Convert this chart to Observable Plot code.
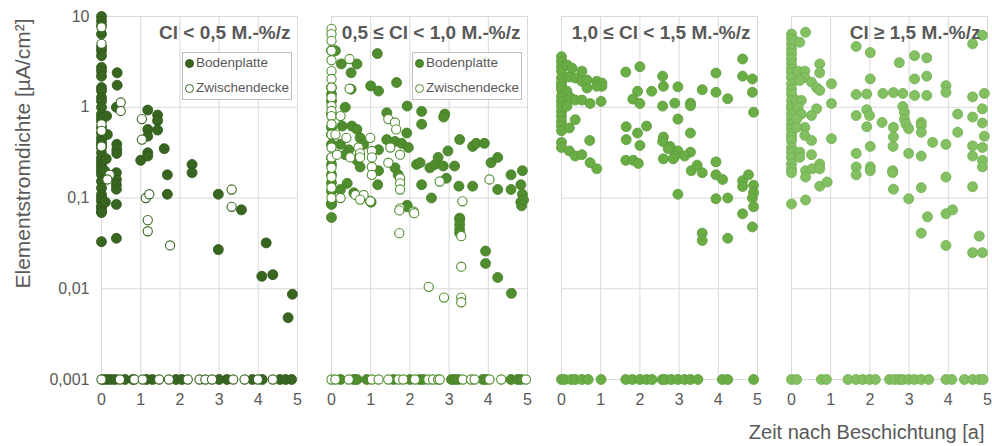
<!DOCTYPE html>
<html><head><meta charset="utf-8">
<script src="https://cdn.jsdelivr.net/npm/d3@7"></script>
<script src="https://cdn.jsdelivr.net/npm/@observablehq/plot@0.6"></script>
<style>
body{margin:0;background:#fff;}
#wrap{position:relative;width:992px;height:446px;font-family:"Liberation Sans",Arial,sans-serif;}
.legend{position:absolute;background:#fff;border:1px solid #bfbfbf;box-sizing:border-box;font-size:13.5px;color:#595959;}
.row{position:absolute;height:16px;line-height:16px;white-space:nowrap;}
.mk{position:absolute;width:9px;height:9px;border-radius:50%;box-sizing:border-box;}
</style></head><body><div id="wrap"></div>
<script>
const panelTitles = ["Cl < 0,5 M.-%/z", "0,5 ≤ Cl < 1,0 M.-%/z", "1,0 ≤ Cl < 1,5 M.-%/z", "Cl ≥ 1,5 M.-%/z"];
const seriesNames = ["Bodenplatte", "Zwischendecke"];
const xTicks = [0, 1, 2, 3, 4, 5];
const xTickLabels = ["0", "1", "2", "3", "4", "5"];
const yTicks = [0.001, 0.01, 0.1, 1, 10];
const yTickLabels = ["0,001", "0,01", "0,1", "1", "10"];
const xTitle = "Zeit nach Beschichtung [a]";
const yTitle = "Elementstromdichte [µA/cm²]";

// Panel 1: Cl < 0,5
const p1Boden = [
 [0,10],[0,8.9],[0,7.9],[0,6.4],[0,4.6],[0,4.2],[0,3.7],[0,2.75],[0,2.5],[0,2.2],[0,1.65],[0,1.52],[0,1.28],[0,1.17],[0,1.0],
 [0,0.84],[0,0.77],[0,0.71],[0,0.6],[0,0.52],[0,0.46],[0,0.42],[0,0.39],[0,0.36],[0,0.315],[0,0.277],[0,0.255],[0,0.234],
 [0,0.215],[0,0.197],[0,0.181],[0,0.153],[0,0.129],[0,0.109],[0,0.1],[0,0.092],[0,0.081],[0,0.078],[0,0.071],[0,0.069],[0,0.033],
 [0.13,0.8],[0.15,0.5],[0.1,0.09],[0.12,0.27],[0.08,0.2],
 [0.4,2.4],[0.4,1.75],[0.38,1.0],[0.39,0.39],[0.39,0.34],[0.39,0.31],[0.38,0.19],[0.38,0.16],[0.38,0.14],[0.38,0.125],[0.38,0.085],[0.38,0.036],
 [1.18,0.93],[1.43,0.82],[1.43,0.71],[1.18,0.57],[1.43,0.56],[1.18,0.48],[1.0,0.26],[1.18,0.315],[1.18,0.29],[1.6,0.35],[1.68,0.18],[1.68,0.11],
 [2.31,0.234],[2.31,0.19],[2.98,0.11],[3.57,0.074],[2.98,0.027],[4.2,0.032],[4.09,0.0137],[4.37,0.0143],[4.87,0.0087],[4.76,0.0048],
 [0.05,0.001],[0.15,0.001],[0.25,0.001],[0.35,0.001],[0.6,0.001],[0.8,0.001],[1.15,0.001],[1.3,0.001],[1.9,0.001],[2.05,0.001],
 [3.0,0.001],[3.2,0.001],[3.85,0.001],[4.1,0.001],[4.55,0.001],[4.7,0.001],[4.85,0.001]
];
const p1Zwischen = [
 [0,7.6],[0,5.0],[0,0.65],[0,0.55],[0,0.37],[0.21,0.18],[0.15,0.16],[0.49,1.13],[0.49,0.91],[1.03,0.74],[1.03,0.44],
 [1.13,0.1],[1.22,0.11],[1.18,0.057],[1.18,0.043],[1.75,0.03],[3.32,0.124],[3.32,0.08],
 [0,0.001],[0.47,0.001],[0.84,0.001],[1.05,0.001],[1.47,0.001],[1.72,0.001],[2.2,0.001],[2.5,0.001],[2.65,0.001],[2.82,0.001],
 [3.36,0.001],[3.65,0.001],[3.99,0.001],[4.37,0.001]
];

// Panel 2: 0,5 <= Cl < 1,0
const p2Boden = [
 [0,4.2],[0,1.65],[0,1.39],[0,1.17],[0,0.84],[0,0.6],[0,0.5],[0,0.39],[0,0.277],[0,0.234],[0,0.181],[0,0.147],[0,0.119],[0,0.088],[0,0.085],[0,0.061],
 [0.1,4.2],[0.25,3.0],[0.5,2.4],[0.65,3.0],[1.17,3.9],[1.0,1.72],[1.2,1.51],[1.66,1.87],[0.5,1.58],[1.93,1.03],[1.41,0.87],[2.3,0.9],
 [2.89,0.84],[2.86,0.78],[2.3,0.65],[0.35,1.0],[0.27,0.62],[0.52,0.62],[0.65,0.57],[0.23,0.39],[0.73,0.46],[1.92,0.52],[1.41,0.44],
 [1.62,0.42],[1.79,0.4],[1.96,0.36],[0.82,0.39],[0.44,0.34],[0.35,0.3],[0.65,0.26],[0.73,0.22],[1.2,0.34],[1.2,0.2],[1.62,0.215],
 [1.7,0.18],[2.17,0.234],[2.26,0.245],[2.51,0.215],[2.64,0.234],[2.72,0.28],[2.85,0.225],[2.97,0.33],[3.14,0.225],[3.27,0.44],
 [3.6,0.37],[3.69,0.4],[3.9,0.4],[4.07,0.245],[4.24,0.28],[4.58,0.18],[4.87,0.2],[4.24,0.124],[4.58,0.124],[4.83,0.14],[4.87,0.11],
 [4.83,0.09],[3.6,0.135],[3.25,0.135],[2.93,0.165],[2.3,0.14],[2.55,0.1],[1.18,0.14],[0.99,0.092],[0.57,0.114],[0.23,0.124],[0.4,0.145],
 [1.93,0.083],[1.92,0.08],[3.27,0.06],[3.27,0.058],[3.27,0.051],[3.27,0.045],[3.27,0.041],[3.93,0.026],[3.93,0.019],[4.24,0.0133],
 [4.59,0.0089],[4.85,0.082],[4.9,0.095],[1.01,0.09],
 [0.23,0.001],[0.57,0.001],[0.65,0.001],[0.9,0.001],[1.58,0.001],[2.0,0.001],[2.25,0.001],[2.34,0.001],[3.06,0.001],[3.14,0.001],
 [3.23,0.001],[3.86,0.001],[3.94,0.001],[4.58,0.001],[4.75,0.001],[4.83,0.001]
];
const p2Zwischen = [
 [0,7.3],[0,6.4],[0,5.4],[0,4.2],[0,3.3],[0,2.5],[0,2.05],[0,1.65],[0,1.28],[0,1.03],[0,0.91],[0,0.8],[0,0.65],[0,0.5],[0,0.36],
 [0,0.28],[0,0.215],[0,0.17],[0,0.13],[0,0.1],
 [0.23,0.8],[0.46,3.4],[0.46,1.6],[0.1,0.5],[0.14,0.3],[0.38,0.46],[0.69,0.36],[0.73,0.31],[0.73,0.28],[0.99,0.46],[1.03,0.33],
 [1.03,0.28],[1.03,0.22],[1.03,0.18],[0.48,0.28],[0.61,0.108],[0.82,0.108],[0.99,0.092],[0.23,0.1],[1.45,0.74],[1.62,0.68],[1.65,0.57],
 [1.45,0.245],[1.5,0.36],[1.75,0.3],[1.75,0.165],[1.75,0.145],[1.75,0.124],[1.75,0.077],[1.73,0.073],[2.09,0.071],[2.11,0.068],
 [2.76,0.152],[4.03,0.16],[3.34,0.092],[1.73,0.041],[3.31,0.038],[3.31,0.0175],[2.48,0.0105],[2.87,0.008],[3.31,0.008],[3.31,0.0071],
 [0.73,0.096],
 [0,0.001],[0.1,0.001],[0.44,0.001],[1.03,0.001],[1.2,0.001],[1.45,0.001],[1.71,0.001],[1.83,0.001],[2.13,0.001],[2.47,0.001],
 [2.59,0.001],[2.72,0.001],[2.76,0.001],[3.35,0.001],[3.56,0.001],[3.65,0.001],[4.03,0.001],[4.33,0.001],[4.96,0.001]
];

// Panel 3: 1,0 <= Cl < 1,5
const p3Values = [
 [0,3.6],[0,3.2],[0,2.8],[0,2.5],[0,2.1],[0,1.85],[0,1.7],[0,1.56],[0,1.32],[0,1.16],[0,1.03],[0,0.9],[0,0.8],[0,0.7],[0,0.62],
 [0,0.55],[0,0.41],[0,0.36],
 [0.14,2.93],[0.27,2.7],[0.19,2.15],[0.14,1.5],[0.23,1.27],[0.14,1.03],[0.35,2.1],[0.52,2.5],[0.52,1.93],[0.65,2.0],[0.65,1.63],
 [0.35,1.2],[0.52,1.2],[0.73,1.1],[0.9,1.93],[1.03,1.85],[1.03,1.7],[0.9,1.7],[1.01,1.16],[0.35,0.73],[0.2,0.59],[0.72,0.43],
 [0.2,0.33],[0.35,0.29],[0.52,0.3],[0.73,0.245],[0.9,0.21],
 [1.64,2.44],[2.0,2.8],[1.94,1.5],[1.82,1.23],[2.0,1.1],[2.3,1.5],[2.58,2.2],[2.6,1.7],[2.58,1.03],[2.89,1.11],[2.97,1.68],
 [3.29,1.11],[3.29,1.04],[3.59,1.56],[3.94,2.38],[3.94,1.46],[4.24,1.24],[4.62,3.4],[4.62,2.2],[4.87,2.05],[4.87,1.46],[4.9,0.88],
 [1.65,0.61],[2.17,0.62],[1.94,0.52],[1.65,0.44],[2.0,0.38],[1.64,0.26],[1.83,0.26],[1.96,0.24],[2.6,0.47],[2.58,0.42],[2.77,0.37],
 [2.72,0.35],[2.97,0.74],[2.97,0.33],[3.29,0.52],[3.29,0.32],[3.14,0.29],[2.89,0.29],[2.85,0.27],[2.6,0.27],[3.31,0.2],[3.46,0.23],
 [3.59,0.19],[3.94,0.25],[3.94,0.18],[4.11,0.16],[4.62,0.155],[4.62,0.134],[4.77,0.18],[4.9,0.138],[4.9,0.115],[4.87,0.1],[4.9,0.08],
 [2.97,0.11],[3.94,0.098],[4.24,0.1],[4.62,0.067],[3.59,0.041],[3.59,0.034],[4.24,0.036],[4.87,0.048],
 [0,0.001],[0.08,0.001],[0.25,0.001],[0.35,0.001],[0.52,0.001],[0.68,0.001],[1.01,0.001],[1.64,0.001],[1.81,0.001],[2.0,0.001],
 [2.17,0.001],[2.31,0.001],[2.57,0.001],[2.65,0.001],[2.8,0.001],[2.97,0.001],[3.14,0.001],[3.29,0.001],[3.48,0.001],[4.1,0.001],
 [4.24,0.001],[4.9,0.001]
];

// Panel 4: Cl >= 1,5
const p4Values = [
 [0,6.4],[0,5.7],[0,5.0],[0,4.4],[0,3.9],[0,3.4],[0,3.0],[0,2.65],[0,2.43],[0,2.14],[0,1.81],[0,1.59],[0,1.4],[0,1.19],[0,1.04],
 [0,0.96],[0,0.84],[0,0.74],[0,0.65],[0,0.58],[0,0.51],[0,0.47],[0,0.43],[0,0.36],[0,0.32],[0,0.28],[0,0.237],[0,0.209],[0,0.19],[0,0.086],
 [0.36,6.7],[0.08,5.4],[0.21,5.2],[0.17,2.5],[0.34,2.5],[0.34,2.14],[0.21,1.97],[0.51,1.89],[0.64,1.64],[0.72,1.53],[0.72,3.0],
 [0.72,2.4],[1.02,1.81],[1.02,1.1],[0.13,1.19],[0.25,1.19],[0.17,1.0],[0.25,0.84],[0.64,0.96],[0.51,0.81],[0.13,0.74],[0.34,0.6],
 [0.13,0.6],[0.34,0.49],[0.51,0.43],[1.02,0.45],[0.21,0.32],[0.51,0.3],[0.21,0.28],[0.36,0.2],[0.53,0.21],[0.72,0.237],[0.72,0.21],
 [0.36,0.17],[0.72,0.135],[0.91,0.15],[0.36,0.095],
 [1.65,4.67],[2.01,4.0],[2.75,3.1],[3.14,3.7],[3.45,3.5],[3.45,2.2],[2.01,2.05],[3.14,2.05],[1.65,1.38],[1.92,1.4],[2.33,1.42],
 [2.6,1.45],[2.84,1.42],[3.14,1.35],[3.45,1.35],[3.94,1.73],[3.94,1.46],[4.62,1.3],[4.92,1.42],[4.87,0.96],[4.62,0.78],[4.87,0.67],
 [4.92,0.48],[4.87,0.36],[4.87,0.26],[4.87,0.22],[4.62,0.375],[4.62,0.29],[4.24,0.84],[4.24,0.53],[3.94,0.39],[3.6,0.41],[3.94,0.17],
 [4.62,0.133],[1.65,0.81],[1.92,0.94],[1.99,0.81],[1.92,0.61],[2.31,0.68],[2.6,0.6],[2.6,0.47],[2.59,0.37],[2.84,1.02],[2.88,0.88],
 [2.88,0.74],[2.92,0.65],[2.99,0.58],[3.31,0.68],[3.31,0.63],[3.31,0.53],[3.31,0.29],[2.99,0.31],[2.01,0.37],[1.65,0.31],[1.65,0.22],
 [1.65,0.18],[2.01,0.22],[2.01,0.2],[2.58,0.2],[2.58,0.19],[2.6,0.125],[2.99,0.098],[3.31,0.13],[3.94,0.067],[3.47,0.062],[4.11,0.074],
 [4.87,6.2],[4.62,5.0],[3.31,0.041],[3.94,0.03],[4.62,0.025],[4.87,0.025],[4.79,0.038],
 [0,0.001],[0.13,0.001],[0.76,0.001],[0.89,0.001],[1.44,0.001],[1.64,0.001],[1.81,0.001],[1.99,0.001],[2.14,0.001],[2.5,0.001],
 [2.63,0.001],[2.75,0.001],[2.84,0.001],[2.99,0.001],[3.14,0.001],[3.31,0.001],[3.5,0.001],[3.94,0.001],[4.09,0.001],[4.41,0.001],
 [4.62,0.001],[4.79,0.001],[4.89,0.001]
];

const panelFill = ["#386621", "#4f8d2e", "#6aad45", "#82c062"];
const panelEdge = ["#2f571b", "#447d27", "#5b9c3a", "#70ad51"];
const grey = "#595959";

const rows = (arr, p) => arr.map(([x, y]) => ({p, x, y}));

function filled(arr, i) {
  return Plot.dot(rows(arr, panelTitles[i]), {x: "x", y: "y", fx: "p", r: 5, fill: panelFill[i], stroke: panelEdge[i], strokeWidth: 0.8});
}
function open(arr, i) {
  return Plot.dot(rows(arr, panelTitles[i]), {x: "x", y: "y", fx: "p", r: 4.6, fill: "white", stroke: panelFill[i], strokeWidth: 1.1});
}

const chart = Plot.plot({
  width: 992,
  height: 446,
  marginLeft: 100,
  marginRight: 4,
  marginTop: 16,
  marginBottom: 67,
  style: {fontFamily: "'Liberation Sans', Arial, sans-serif", fontSize: "16px", color: grey, background: "white"},
  fx: {domain: panelTitles, paddingInner: 0.147, paddingOuter: 0, axis: null},
  x: {domain: [0, 5]},
  y: {type: "log", domain: [0.001, 10]},
  marks: [
    Plot.gridX(xTicks, {stroke: "#d9d9d9", strokeOpacity: 1}),
    Plot.gridY(yTicks, {stroke: "#d9d9d9", strokeOpacity: 1}),
    Plot.axisX({ticks: xTicks, tickSize: 0, tickPadding: 14, fontSize: 16, label: null, fill: grey,
      tickFormat: d => xTickLabels[xTicks.indexOf(d)]}),
    Plot.axisY({ticks: yTicks, tickSize: 0, tickPadding: 12, fontSize: 16, label: null, fill: grey,
      tickFormat: d => yTickLabels[yTicks.indexOf(d)]}),
    filled(p1Boden, 0), open(p1Zwischen, 0),
    filled(p2Boden, 1), open(p2Zwischen, 1),
    filled(p3Values, 2),
    filled(p4Values, 3),
    Plot.text(panelTitles.map(p => ({p})), {fx: "p", text: "p", frameAnchor: "top-right", dx: -7, dy: 9,
      fontSize: 19, fontWeight: "bold", fill: grey}),
    Plot.text([{p: panelTitles[0], t: yTitle}], {fx: "p", text: "t", frameAnchor: "top-left", rotate: -90,
      textAnchor: "end", lineAnchor: "middle", dx: -78, dy: 2, fontSize: 21, fill: grey}),
    Plot.text([{p: panelTitles[3], t: xTitle}], {fx: "p", text: "t", frameAnchor: "bottom-right",
      textAnchor: "end", lineAnchor: "middle", dx: -3, dy: 53, fontSize: 20, fill: grey})
  ]
});

const wrap = document.getElementById("wrap");
wrap.appendChild(chart);

// Legends for panels 1 and 2
const fxScale = chart.scale("fx");
const bw = fxScale.bandwidth;
[0, 1].forEach(i => {
  const left = fxScale.apply(panelTitles[i]);
  const box = document.createElement("div");
  box.className = "legend";
  box.style.left = (left + 81) + "px";
  box.style.top = "52px";
  box.style.width = (bw - 86) + "px";
  box.style.height = "48px";
  seriesNames.forEach((name, j) => {
    const mk = document.createElement("div");
    mk.className = "mk";
    mk.style.left = "2px";
    mk.style.top = (6 + j * 25) + "px";
    if (j === 0) { mk.style.background = panelFill[i]; mk.style.border = "1px solid " + panelEdge[i]; }
    else { mk.style.background = "#fff"; mk.style.border = "1px solid " + panelFill[i]; }
    box.appendChild(mk);
    const row = document.createElement("div");
    row.className = "row";
    row.style.left = "13px";
    row.style.top = (2 + j * 25) + "px";
    row.textContent = name;
    box.appendChild(row);
  });
  wrap.appendChild(box);
});
</script>
</body></html>
